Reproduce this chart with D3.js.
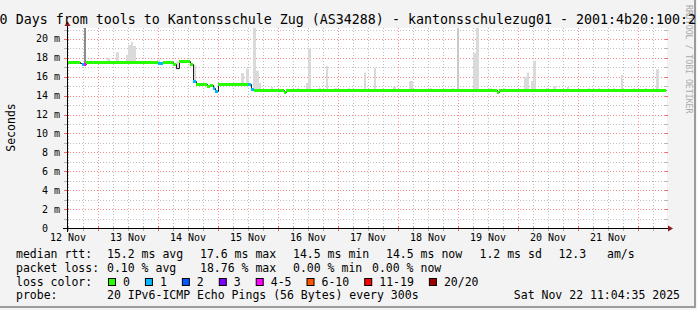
<!DOCTYPE html>
<html>
<head>
<meta charset="utf-8">
<script src="https://cdn.jsdelivr.net/npm/d3@7/dist/d3.min.js"></script>
<style>
  body { margin: 0; background: #f3f3f3; }
  svg text { font-family: "DejaVu Sans Mono", monospace; white-space: pre; }
</style>
</head>
<body>
<div id="chart"></div>
<script>
var w = 697,
  h = 310;

var parse = d3.timeParse('%Y-%m-%d %H:%M');

// median rtt (ms), step values starting at each time, with lost pings out of 20
var medianTimes = [
  '2025-11-12 11:36', '2025-11-12 16:48', '2025-11-12 17:36', '2025-11-12 18:24', '2025-11-12 19:12',
  '2025-11-14 00:00', '2025-11-14 02:00', '2025-11-14 06:00', '2025-11-14 07:12', '2025-11-14 08:24',
  '2025-11-14 12:48', '2025-11-14 14:00', '2025-11-14 15:12', '2025-11-14 19:36', '2025-11-14 20:48',
  '2025-11-14 22:00', '2025-11-14 22:48', '2025-11-15 00:00', '2025-11-15 12:00', '2025-11-15 13:12',
  '2025-11-15 14:24', '2025-11-16 02:24', '2025-11-16 03:12', '2025-11-19 15:36', '2025-11-19 16:24'
];
var medianValues = [
  17.55, 17.45, 17.4, 17.4, 17.55,
  17.45, 17.6, 17.3, 16.9, 17.7,
  17.3, 15.5, 15.2, 15.05, 15.1,
  14.8, 14.5, 15.2, 15.2, 14.7,
  14.55, 14.4, 14.55, 14.4, 14.55
];
var medianLoss = [
  0, null, 1, 4, 0,
  1, 0, 0, null, 0,
  0, 1, 0, 0, 0,
  1, 1, 0, 1, 1,
  0, 0, 0, 0, 0
];
var dataEnd = '2025-11-22 11:12';

// smoke: spread of the pings above the median
var smokeStart = [
  '2025-11-12 18:24', '2025-11-13 03:36', '2025-11-13 07:12', '2025-11-13 11:12', '2025-11-13 12:00',
  '2025-11-13 13:12', '2025-11-13 14:00', '2025-11-13 23:36', '2025-11-14 07:12', '2025-11-14 12:48',
  '2025-11-14 14:00', '2025-11-15 09:12', '2025-11-15 11:12', '2025-11-15 14:00', '2025-11-15 15:12',
  '2025-11-15 16:24', '2025-11-15 21:12', '2025-11-16 07:36', '2025-11-16 11:12', '2025-11-16 12:00',
  '2025-11-16 16:00', '2025-11-16 19:12', '2025-11-16 22:24', '2025-11-17 04:00', '2025-11-17 10:24',
  '2025-11-17 14:24', '2025-11-17 22:00', '2025-11-18 04:24', '2025-11-18 12:48', '2025-11-18 21:36',
  '2025-11-18 23:36', '2025-11-19 06:00', '2025-11-19 07:12', '2025-11-19 12:48', '2025-11-19 18:00',
  '2025-11-20 02:24', '2025-11-20 03:36', '2025-11-20 05:12', '2025-11-20 06:00', '2025-11-20 11:12',
  '2025-11-20 14:00', '2025-11-20 19:36', '2025-11-21 04:00', '2025-11-21 08:00', '2025-11-21 14:00',
  '2025-11-21 17:12', '2025-11-21 22:00', '2025-11-22 02:48', '2025-11-22 07:12'
];
var smokeEnd = [
  '2025-11-12 19:12', '2025-11-13 04:48', '2025-11-13 08:24', '2025-11-13 12:00', '2025-11-13 13:12',
  '2025-11-13 14:00', '2025-11-13 15:12', '2025-11-14 00:48', '2025-11-14 08:24', '2025-11-14 14:00',
  '2025-11-14 15:12', '2025-11-15 10:24', '2025-11-15 12:24', '2025-11-15 15:12', '2025-11-15 16:24',
  '2025-11-15 17:12', '2025-11-15 22:00', '2025-11-16 08:24', '2025-11-16 12:00', '2025-11-16 13:12',
  '2025-11-16 17:12', '2025-11-16 20:00', '2025-11-16 23:36', '2025-11-17 04:48', '2025-11-17 11:12',
  '2025-11-17 15:12', '2025-11-17 23:12', '2025-11-18 06:00', '2025-11-18 13:36', '2025-11-18 22:24',
  '2025-11-19 00:24', '2025-11-19 07:12', '2025-11-19 08:24', '2025-11-19 13:36', '2025-11-19 18:48',
  '2025-11-20 03:36', '2025-11-20 04:24', '2025-11-20 06:00', '2025-11-20 07:12', '2025-11-20 12:00',
  '2025-11-20 15:12', '2025-11-20 20:24', '2025-11-21 04:48', '2025-11-21 08:48', '2025-11-21 14:48',
  '2025-11-21 18:00', '2025-11-21 22:48', '2025-11-22 03:36', '2025-11-22 08:24'
];
var smokeTop = [
  22, 18.0, 18.6, 18.3, 19.35,
  19.7, 19.25, 17.8, 17.6, 17.45,
  17.2, 16.4, 16.85, 22, 16.65,
  15.35, 14.95, 14.8, 15.35, 19.0,
  14.8, 17.15, 14.8, 14.8, 16.45,
  16.95, 14.95, 15.55, 14.8, 14.8,
  22, 18.5, 22, 14.8, 14.8,
  16.0, 16.45, 15.55, 17.7, 14.8,
  15.0, 14.95, 14.8, 14.8, 14.8,
  16.2, 14.8, 14.8, 16.8
];
var smokeDensity = [
  10, 1, 1, 1, 1,
  1, 1, 1, 1, 1,
  1, 1, 1, 1, 1,
  1, 1, 1, 1, 1,
  1, 1, 1, 1, 1,
  1, 1, 1, 1, 1,
  3, 1, 1, 1, 1,
  1, 1, 1, 1, 1,
  1, 1, 1, 1, 1,
  1, 1, 1, 1
];

var lossLabels = ['0', '1', '2', '3', '4-5', '6-10', '11-19', '20/20'];
var lossUpper = [0, 1, 2, 3, 5, 10, 19, 20];
var lossColors = ['#26ff00', '#00b8ff', '#0059ff', '#7e00ff', '#ff00ff', '#ff5500', '#ff0000', '#a00000'];

var title = '10 Days from tools to Kantonsschule Zug (AS34288) - kantonsschulezug01 - 2001:4b20:100:2::1';
var rttStats = ['15.2 ms avg', '17.6 ms max', '14.5 ms min', '14.5 ms now', '1.2 ms sd', '12.3   am/s'];
var lossStats = ['0.10 % avg', '18.76 % max', '0.00 % min', '0.00 % now'];
var probeText = '20 IPv6-ICMP Echo Pings (56 Bytes) every 300s';
var stamp = 'Sat Nov 22 11:04:35 2025';

// layout (plot box)
var pLeft = 67, pRight = 667, pTop = 28, pBottom = 228;

var svg = d3.select('#chart').append('svg')
  .attr('width', w)
  .attr('height', h);

svg.append('rect').attr('width', w).attr('height', h).attr('fill', '#f3f3f3');
svg.append('line').attr('x1', 0).attr('x2', 696).attr('y1', 307).attr('y2', 307)
  .attr('stroke', '#9c9c9c').attr('stroke-width', 2);
svg.append('line').attr('x1', 695).attr('x2', 695).attr('y1', 0).attr('y2', 308)
  .attr('stroke', '#9c9c9c').attr('stroke-width', 2);

svg.append('rect')
  .attr('x', pLeft).attr('y', pTop)
  .attr('width', pRight - pLeft).attr('height', pBottom - pTop)
  .attr('fill', '#fff');

var x = d3.scaleTime()
  .domain([parse('2025-11-12 11:36'), parse('2025-11-22 11:36')])
  .range([pLeft, pRight]);
var y = d3.scaleLinear()
  .domain([0, 21.16])
  .range([pBottom, pTop]);

var minorGrid = 'rgba(128,128,128,0.5)',
  majorGrid = 'rgba(255,0,0,0.45)';

// vertical grid
var hours6 = d3.timeHour.every(6).range(x.domain()[0], x.domain()[1]);
svg.selectAll('line.vgrid')
  .data(hours6)
  .enter().append('line')
  .attr('class', 'vgrid')
  .attr('x1', function(d) { return Math.round(x(d)) + 0.5; })
  .attr('x2', function(d) { return Math.round(x(d)) + 0.5; })
  .attr('y1', pTop)
  .attr('y2', pBottom)
  .attr('stroke', function(d) { return d.getHours() === 0 ? majorGrid : minorGrid; })
  .attr('stroke-dasharray', '1,2');

// horizontal grid
var yVals = d3.range(1, 22);
svg.selectAll('line.hgrid')
  .data(yVals)
  .enter().append('line')
  .attr('class', 'hgrid')
  .attr('x1', pLeft)
  .attr('x2', pRight)
  .attr('y1', function(d) { return Math.round(y(d)) + 0.5; })
  .attr('y2', function(d) { return Math.round(y(d)) + 0.5; })
  .attr('stroke', function(d) { return d % 2 === 0 ? majorGrid : minorGrid; })
  .attr('stroke-dasharray', '1,2');

// plot clip
svg.append('clipPath').attr('id', 'plot')
  .append('rect').attr('x', pLeft).attr('y', pTop)
  .attr('width', pRight - pLeft).attr('height', pBottom - pTop);
var g = svg.append('g').attr('clip-path', 'url(#plot)');

var mTimes = medianTimes.map(parse);
var bis = d3.bisector(function(d) { return d; }).right;
function medianAt(t) {
  return medianValues[Math.max(0, bis(mTimes, t) - 1)];
}

var shade = d3.scaleLinear().domain([1, 10]).range(['#dadada', '#8c8c8c']);

// smoke
g.selectAll('rect.smoke')
  .data(smokeStart)
  .enter().append('rect')
  .attr('class', 'smoke')
  .attr('x', function(d) { return x(parse(d)); })
  .attr('width', function(d, i) { return x(parse(smokeEnd[i])) - x(parse(d)); })
  .attr('y', function(d, i) { return y(smokeTop[i]); })
  .attr('height', function(d, i) { return y(medianAt(parse(d))) + 1.5 - y(smokeTop[i]); })
  .attr('fill', function(d, i) { return shade(smokeDensity[i]); });

// median line
var pts = mTimes.map(function(t, i) { return [t, medianValues[i]]; });
pts.push([parse(dataEnd), medianValues[medianValues.length - 1]]);
g.append('path')
  .datum(pts)
  .attr('fill', 'none')
  .attr('stroke', '#202020')
  .attr('stroke-width', 1)
  .attr('d', d3.line()
    .x(function(d) { return Math.round(x(d[0])) + 0.5; })
    .y(function(d) { return Math.round(y(d[1])) + 0.5; })
    .curve(d3.curveStepAfter));

function lossColor(n) {
  for (var i = 0; i < lossUpper.length; i++) {
    if (n <= lossUpper[i]) return lossColors[i];
  }
  return lossColors[lossColors.length - 1];
}

// median coloured by packet loss
var ends = mTimes.slice(1).concat([parse(dataEnd)]);
var segs = mTimes.map(function(t, i) { return i; })
  .filter(function(i) { return medianLoss[i] !== null; });
g.selectAll('rect.med')
  .data(segs)
  .enter().append('rect')
  .attr('class', 'med')
  .attr('x', function(i) { return Math.round(x(mTimes[i])); })
  .attr('width', function(i) { return Math.round(x(ends[i])) - Math.round(x(mTimes[i])); })
  .attr('y', function(i) { return Math.round(y(medianValues[i])) - 1; })
  .attr('height', 3)
  .attr('fill', function(i) { return lossColor(medianLoss[i]); });

// ticks on axes
function tickColor(major) { return major ? 'rgba(255,0,0,0.6)' : 'rgba(120,120,120,0.5)'; }
svg.selectAll('line.xtick')
  .data(hours6)
  .enter().append('line')
  .attr('x1', function(d) { return Math.round(x(d)) + 0.5; })
  .attr('x2', function(d) { return Math.round(x(d)) + 0.5; })
  .attr('y1', pBottom - 2)
  .attr('y2', pBottom + 3)
  .attr('stroke', function(d) { return tickColor(d.getHours() === 0); });

svg.selectAll('line.ytick')
  .data(yVals)
  .enter().append('line')
  .attr('x1', pLeft - 3)
  .attr('x2', pLeft + 2)
  .attr('y1', function(d) { return Math.round(y(d)) + 0.5; })
  .attr('y2', function(d) { return Math.round(y(d)) + 0.5; })
  .attr('stroke', function(d) { return tickColor(d % 2 === 0); });

svg.selectAll('line.ytick2')
  .data(yVals)
  .enter().append('line')
  .attr('x1', pRight - 2)
  .attr('x2', pRight + 1)
  .attr('y1', function(d) { return Math.round(y(d)) + 0.5; })
  .attr('y2', function(d) { return Math.round(y(d)) + 0.5; })
  .attr('stroke', function(d) { return tickColor(d % 2 === 0); });

// axes
svg.append('line').attr('x1', pLeft - 4).attr('x2', pRight + 2)
  .attr('y1', pBottom + 0.5).attr('y2', pBottom + 0.5).attr('stroke', '#000');
svg.append('line').attr('x1', pLeft + 0.5).attr('x2', pLeft + 0.5)
  .attr('y1', pBottom + 4).attr('y2', pTop - 4).attr('stroke', '#000');
svg.append('path')
  .attr('d', 'M' + (pRight + 1) + ',' + (pBottom - 2.5) + 'L' + (pRight + 6) + ',' + (pBottom + 0.5) +
    'L' + (pRight + 1) + ',' + (pBottom + 3.5) + 'Z')
  .attr('fill', '#8b1a1a');
svg.append('path')
  .attr('d', 'M' + (pLeft - 2.5) + ',' + (pTop - 2) + 'L' + (pLeft + 0.5) + ',' + (pTop - 7) +
    'L' + (pLeft + 3.5) + ',' + (pTop - 2) + 'Z')
  .attr('fill', '#8b1a1a');

// axis labels
var noons = d3.timeDay.range(d3.timeDay.floor(x.domain()[0]), x.domain()[1])
  .map(function(d) { return d3.timeHour.offset(d, 12); })
  .filter(function(d) { return d >= x.domain()[0] && d < x.domain()[1]; });
svg.selectAll('text.xl')
  .data(noons)
  .enter().append('text')
  .attr('x', function(d) { return x(d); })
  .attr('y', 241)
  .attr('text-anchor', 'middle')
  .attr('font-size', '10px')
  .text(d3.timeFormat('%d %b'));

svg.selectAll('text.yl')
  .data(d3.range(0, 21, 2))
  .enter().append('text')
  .attr('x', 60)
  .attr('y', function(d) { return y(d) + 3.5; })
  .attr('text-anchor', 'end')
  .attr('font-size', '10px')
  .text(function(d) { return d === 0 ? '0  ' : d + ' m'; });

svg.append('text')
  .attr('transform', 'translate(11,127.5) rotate(-90)')
  .attr('text-anchor', 'middle')
  .attr('dominant-baseline', 'central')
  .attr('font-size', '11.5px')
  .text('Seconds');

svg.append('text')
  .attr('transform', 'translate(688.5,5) rotate(90)')
  .attr('dominant-baseline', 'central')
  .attr('font-size', '8.2px')
  .attr('fill', '#aaa')
  .text('RRDTOOL / TOBI OETIKER');

svg.append('text')
  .attr('x', -8.4)
  .attr('y', 24)
  .attr('font-size', '13.3px')
  .text(title);

// legend
var fs = '11.5px';
function row(yy, label, items, xs) {
  svg.append('text').attr('x', 16).attr('y', yy).attr('font-size', fs).text(label);
  items.forEach(function(t, i) {
    svg.append('text').attr('x', xs[i]).attr('y', yy).attr('font-size', fs).text(t);
  });
}
row(258, 'median rtt:', rttStats, [107, 200, 293, 386, 479.5, 558.5]);
row(271.8, 'packet loss:', lossStats, [107, 200, 293, 372]);
row(299.4, 'probe:', [probeText], [107]);
svg.append('text').attr('x', 680).attr('y', 299.4).attr('text-anchor', 'end')
  .attr('font-size', fs).text(stamp);

svg.append('text').attr('x', 16).attr('y', 285.6).attr('font-size', fs).text('loss color:');
var bx = 108;
lossLabels.forEach(function(l, i) {
  svg.append('rect').attr('x', bx + 0.5).attr('y', 278.5).attr('width', 7).attr('height', 7)
    .attr('fill', lossColors[i]).attr('stroke', '#000');
  svg.append('text').attr('x', bx + 15).attr('y', 285.6).attr('font-size', fs).text(l);
  bx += 30 + l.length * 6.93;
});
</script>
</body>
</html>
